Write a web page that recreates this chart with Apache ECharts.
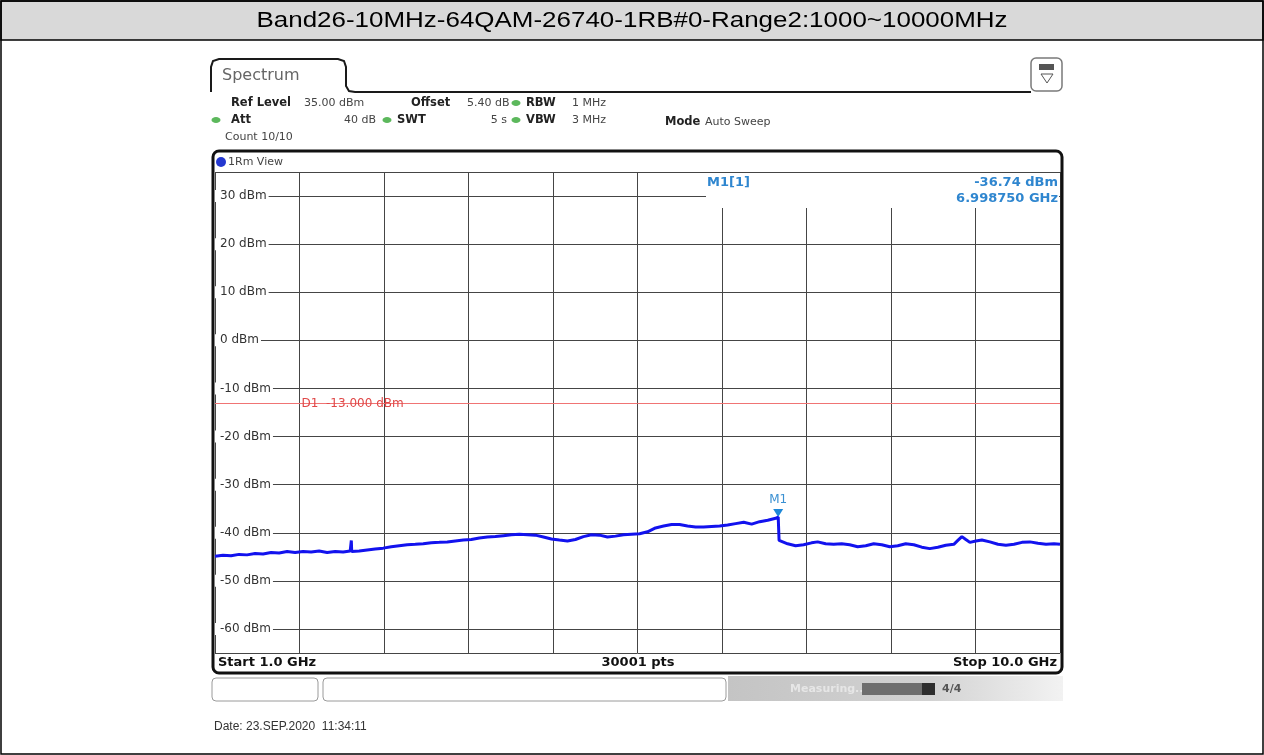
<!DOCTYPE html>
<html>
<head>
<meta charset="utf-8">
<script src="https://cdn.jsdelivr.net/npm/echarts@6/dist/echarts.min.js"></script>
<style>
  html, body { margin: 0; padding: 0; background: #fff; }
  #main { width: 1264px; height: 755px; }
</style>
</head>
<body>
<div id="main"></div>
<script>
// chart data
const chartTitle = 'Band26-10MHz-64QAM-26740-1RB#0-Range2:1000~10000MHz';
const startGHz = 1.0;
const stopGHz = 10.0;
const refLevel = 35;
const bottomLevel = -65;
const limitLevel = -13;          // D1 display line
const markerFreq = 6.99875;      // M1
const markerLevel = -36.74;

const freqGHz = [
  1.000, 1.085, 1.171, 1.256, 1.341, 1.427, 1.512, 1.597, 1.683, 1.768,
  1.853, 1.938, 2.024, 2.109, 2.194, 2.280, 2.365, 2.440, 2.452, 2.456,
  2.536, 2.621, 2.706, 2.792, 2.877, 2.962, 3.047, 3.133, 3.218, 3.303,
  3.389, 3.474, 3.559, 3.645, 3.730, 3.815, 3.901, 3.986, 4.071, 4.157,
  4.242, 4.327, 4.412, 4.498, 4.583, 4.668, 4.754, 4.839, 4.924, 5.010,
  5.095, 5.180, 5.266, 5.351, 5.436, 5.522, 5.607, 5.692, 5.778, 5.863,
  5.948, 6.033, 6.119, 6.204, 6.289, 6.375, 6.460, 6.545, 6.631, 6.716,
  6.801, 6.887, 6.972, 6.99875, 7.008, 7.099, 7.184, 7.269, 7.354, 7.419,
  7.504, 7.589, 7.675, 7.760, 7.845, 7.931, 8.016, 8.101, 8.187, 8.272,
  8.357, 8.443, 8.528, 8.613, 8.699, 8.784, 8.869, 8.912, 8.955, 8.997,
  9.040, 9.104, 9.168, 9.253, 9.339, 9.424, 9.510, 9.595, 9.680, 9.765,
  9.851, 9.936, 10.000
];
const levelDbm = [
  -44.9, -44.7, -44.8, -44.5, -44.6, -44.3, -44.4, -44.1, -44.2, -43.9,
  -44.1, -43.9, -44.0, -43.8, -44.1, -43.9, -44.0, -43.8, -41.6, -43.9,
  -43.8, -43.6, -43.4, -43.2, -42.9, -42.7, -42.5, -42.4, -42.3, -42.1,
  -42.0, -41.9, -41.7, -41.5, -41.4, -41.1, -40.9, -40.8, -40.6, -40.4,
  -40.3, -40.4, -40.5, -40.9, -41.3, -41.5, -41.7, -41.4, -40.8, -40.4,
  -40.5, -40.9, -40.7, -40.4, -40.3, -40.2, -39.8, -39.0, -38.6, -38.3,
  -38.3, -38.6, -38.8, -38.8, -38.7, -38.6, -38.4, -38.1, -37.8, -38.2,
  -37.7, -37.4, -37.0, -36.74, -41.6, -42.3, -42.7, -42.5, -42.1, -41.9,
  -42.3, -42.4, -42.3, -42.5, -42.9, -42.7, -42.3, -42.5, -42.9, -42.7,
  -42.3, -42.5, -43.0, -43.3, -43.0, -42.6, -42.4, -41.6, -40.8, -41.4,
  -42.0, -41.7, -41.5, -41.9, -42.4, -42.6, -42.4, -42.0, -41.9, -42.2,
  -42.4, -42.3, -42.4
];

const headerRow1 = [['Ref Level', '35.00 dBm'], ['Offset', '5.40 dB'], ['RBW', '1 MHz']];
const headerRow2 = [['Att', '40 dB'], ['SWT', '5 s'], ['VBW', '3 MHz'], ['Mode', 'Auto Sweep']];
const countText = 'Count 10/10';
const traceName = '1Rm View';
const pointsText = '30001 pts';
const dateText = 'Date: 23.SEP.2020  11:34:11';

const FONT = '"DejaVu Sans", sans-serif';
const chart = echarts.init(document.getElementById('main'));

const traceData = freqGHz.map((f, i) => [f, levelDbm[i]]);

chart.setOption({
  animation: false,
  grid: { left: 215, top: 172, width: 845, height: 481, show: false },
  xAxis: [
    { type: 'value', min: startGHz, max: stopGHz, show: false },
    {
      // span from start, 10 divisions of 0.9 GHz
      type: 'value', min: 0, max: stopGHz - startGHz, interval: (stopGHz - startGHz) / 10,
      axisLine: { show: false }, axisTick: { show: false }, axisLabel: { show: false },
      splitLine: { show: true, lineStyle: { color: '#454545', width: 1 } }
    }
  ],
  yAxis: {
    type: 'value', min: bottomLevel, max: refLevel, splitNumber: 10,
    axisLine: { show: false }, axisTick: { show: false },
    axisLabel: {
      inside: true, margin: 0, showMinLabel: false, showMaxLabel: false,
      color: '#333', fontSize: 12, fontFamily: 'DejaVu Sans',
      backgroundColor: '#fff', padding: [0, 2, 0, 5],
      formatter: function (v) {
        if (v === bottomLevel || v === refLevel) return '';
        return v + ' dBm';
      }
    },
    splitLine: { show: true, lineStyle: { color: '#454545', width: 1 } }
  },
  series: [{
    name: 'trace',
    type: 'line',
    xAxisIndex: 0,
    data: traceData,
    showSymbol: false,
    symbol: 'none',
    lineStyle: { color: '#1212ee', width: 3 },
    z: 5,
    markLine: {
      silent: true,
      symbol: 'none',
      label: { show: false },
      lineStyle: { color: '#f07474', width: 1, type: 'solid' },
      data: [{ yAxis: limitLevel }]
    },
    markPoint: {
      silent: true,
      symbol: 'triangle',
      symbolRotate: 180,
      symbolSize: [10, 8],
      symbolOffset: [0, -4],
      itemStyle: { color: '#1e88d8' },
      label: {
        show: true, position: 'top', distance: 3, formatter: 'M1',
        color: '#3a90d2', fontSize: 12, fontFamily: 'DejaVu Sans'
      },
      data: [{ coord: [markerFreq, markerLevel] }]
    }
  }]
});

// annotation anchors from the chart's own scales
const d1Pos = chart.convertToPixel({ xAxisIndex: 0, yAxisIndex: 0 }, [1.9, limitLevel]);

function text(x, y, s, font, fill, align, extra) {
  return Object.assign({
    type: 'text', x: x, y: y, z: 60, silent: true,
    style: { text: s, font: font, fill: fill, align: align || 'left', verticalAlign: 'middle' }
  }, extra || {});
}
function dot(cx, cy, color) {
  return { type: 'ellipse', z: 60, silent: true, shape: { cx: cx, cy: cy, rx: 4.5, ry: 3 }, style: { fill: color } };
}

const regular = '11px ' + FONT;
const bold = 'bold 11.5px ' + FONT;

const graphic = [
  // page frame and title bar
  { type: 'rect', z: 1, shape: { x: 1, y: 1, width: 1262, height: 39 }, style: { fill: '#d9d9d9', stroke: '#000', lineWidth: 1.5 } },
  { type: 'rect', z: 1, shape: { x: 1, y: 1, width: 1262, height: 753 }, style: { fill: 'none', stroke: '#000', lineWidth: 1.5 } },
  text(632, 21, chartTitle, '22px "Liberation Sans", Arial, sans-serif', '#000', 'center', { scaleX: 1.18, originX: 0, originY: 0 }),

  // tab + top rule
  { type: 'polyline', z: 60, shape: { points: [[211, 92], [211, 67], [213, 61], [219, 59], [338, 59], [344, 61], [346, 67], [346, 86], [349, 91], [355, 92], [1031, 92]] },
    style: { fill: 'none', stroke: '#1a1a1a', lineWidth: 2 } },
  text(222, 76, 'Spectrum', '16px ' + FONT, '#666'),
  { type: 'rect', z: 60, shape: { x: 1031, y: 58, width: 31, height: 33, r: 5 }, style: { fill: '#fff', stroke: '#7a7a7a', lineWidth: 1.5 } },
  { type: 'rect', z: 61, shape: { x: 1039, y: 64, width: 15, height: 6 }, style: { fill: '#555' } },
  { type: 'polygon', z: 61, shape: { points: [[1041, 74], [1053, 74], [1047, 83]] }, style: { fill: '#fff', stroke: '#555', lineWidth: 1 } },

  // setting rows
  text(231, 103, headerRow1[0][0], bold, '#222'),
  text(304, 103, headerRow1[0][1], regular, '#444'),
  text(411, 103, headerRow1[1][0], bold, '#222'),
  text(467, 103, headerRow1[1][1], regular, '#444'),
  dot(516, 103, '#5cb85c'),
  text(526, 103, headerRow1[2][0], bold, '#222'),
  text(572, 103, headerRow1[2][1], regular, '#444'),

  dot(216, 120, '#5cb85c'),
  text(231, 120, headerRow2[0][0], bold, '#222'),
  text(376, 120, headerRow2[0][1], regular, '#444', 'right'),
  dot(387, 120, '#5cb85c'),
  text(397, 120, headerRow2[1][0], bold, '#222'),
  text(507, 120, headerRow2[1][1], regular, '#444', 'right'),
  dot(516, 120, '#5cb85c'),
  text(526, 120, headerRow2[2][0], bold, '#222'),
  text(572, 120, headerRow2[2][1], regular, '#444'),
  text(665, 122, headerRow2[3][0], bold, '#222'),
  text(705, 122, headerRow2[3][1], regular, '#444'),

  text(225, 137, countText, regular, '#444'),

  // trace header row
  { type: 'circle', z: 60, shape: { cx: 221, cy: 162, r: 5 }, style: { fill: '#2438d0' } },
  text(228, 162, traceName, regular, '#444'),

  // marker readout box
  { type: 'rect', z: 50, shape: { x: 706, y: 173, width: 353, height: 35 }, style: { fill: '#fff' } },
  text(707, 183, 'M1[1]', 'bold 13px ' + FONT, '#2f86cf'),
  text(1058, 183, markerLevel.toFixed(2) + ' dBm', 'bold 13px ' + FONT, '#2f86cf', 'right'),
  text(1058, 199, markerFreq.toFixed(6) + ' GHz', 'bold 13px ' + FONT, '#2f86cf', 'right'),

  // D1 label
  text(d1Pos[0] + 2, d1Pos[1] + 1, 'D1  ' + limitLevel.toFixed(3) + ' dBm', '12px ' + FONT, '#e04848'),

  // bottom row
  text(218, 663, 'Start ' + startGHz.toFixed(1) + ' GHz', 'bold 13px ' + FONT, '#111'),
  text(638, 663, pointsText, 'bold 13px ' + FONT, '#111', 'center'),
  text(1057, 663, 'Stop ' + stopGHz.toFixed(1) + ' GHz', 'bold 13px ' + FONT, '#111', 'right'),

  // screen frame
  { type: 'rect', z: 100, silent: true, shape: { x: 213, y: 151, width: 849, height: 522, r: 6 }, style: { fill: 'none', stroke: '#111', lineWidth: 3 } },

  // status bar
  { type: 'rect', z: 60, shape: { x: 212, y: 678, width: 106, height: 23, r: 4 }, style: { fill: '#fff', stroke: '#9a9a9a', lineWidth: 1 } },
  { type: 'rect', z: 60, shape: { x: 323, y: 678, width: 403, height: 23, r: 4 }, style: { fill: '#fff', stroke: '#9a9a9a', lineWidth: 1 } },
  { type: 'rect', z: 59, shape: { x: 728, y: 676, width: 335, height: 25 },
    style: { fill: new echarts.graphic.LinearGradient(0, 0, 1, 0, [{ offset: 0, color: '#c4c4c4' }, { offset: 0.6, color: '#d2d2d2' }, { offset: 1, color: '#f2f2f2' }]) } },
  text(790, 689, 'Measuring...', 'bold 11px ' + FONT, '#e6e6e6'),
  { type: 'rect', z: 60, shape: { x: 862, y: 683, width: 60, height: 12 }, style: { fill: '#6e6e6e' } },
  { type: 'rect', z: 60, shape: { x: 922, y: 683, width: 13, height: 12 }, style: { fill: '#2e2e2e' } },
  text(942, 689, '4/4', 'bold 11px ' + FONT, '#555'),

  // date stamp
  text(214, 727, dateText, '12px "Liberation Sans", Arial, sans-serif', '#333')
];

chart.setOption({ graphic: graphic });
</script>
</body>
</html>
